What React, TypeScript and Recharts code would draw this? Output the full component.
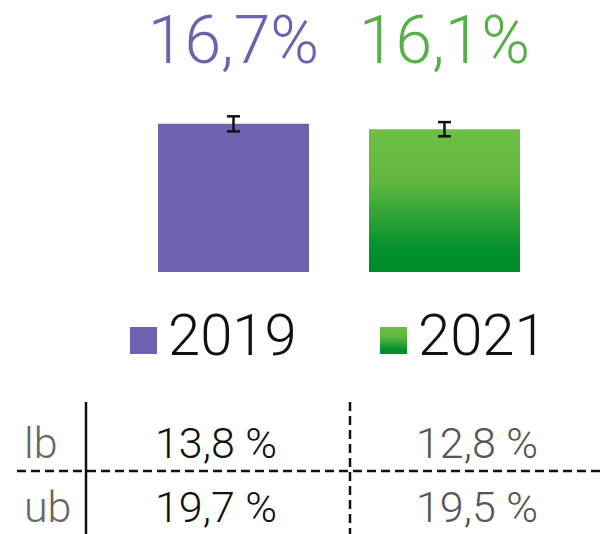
import React from 'react';
import { BarChart, Bar, XAxis, YAxis, ErrorBar, LabelList, Legend } from 'recharts';

const years = ['2019', '2021'];
const shares = [16.7, 16.1];
const errors = [0.85, 0.8];
const lowerBounds = [13.8, 12.8];
const upperBounds = [19.7, 19.5];
const rowLabels = ['lb', 'ub'];

const COLORS = ['#6E62AE', 'url(#greenGrad)'];
const LABEL_COLORS = ['#6E62AE', '#57B047'];
const FONT = 'Roboto, "Liberation Sans", sans-serif';

const data = [
  {
    name: 'share',
    y2019: shares[0],
    e2019: errors[0],
    y2021: shares[1],
    e2021: errors[1],
  },
];

const fmt = (v: number) => v.toFixed(1).replace('.', ',');

const topLabel = (color: string) => (props: any) => {
  const { x, width, value } = props;
  return (
    <text
      x={Number(x) + Number(width) / 2}
      y={63}
      textAnchor="middle"
      fill={color}
      fontSize={66}
      fontWeight={300}
      fontFamily={FONT}
    >
      {fmt(Number(value))}%
    </text>
  );
};

const LegendContent = (props: any) => {
  const { payload } = props;
  return (
    <svg width={600} height={70} style={{ display: 'block' }}>
      {(payload || []).map((entry: any, i: number) => {
        const x = 130 + i * 250;
        return (
          <g key={entry.value}>
            <rect x={x} y={27} width={27} height={27} fill={COLORS[i]} />
            <text x={x + 38} y={55} fontSize={58} fontWeight={300} fontFamily={FONT} fill="#111">
              {entry.value}
            </text>
          </g>
        );
      })}
    </svg>
  );
};

function BoundsTable() {
  const colX = [216, 477];
  const colColor = ['#111', '#555'];
  const rows = [lowerBounds, upperBounds];
  const rowY = [458, 522];
  return (
    <svg width={600} height={534} style={{ position: 'absolute', left: 0, top: 0, pointerEvents: 'none' }}>
      <line x1={86} y1={402} x2={86} y2={534} stroke="#111" strokeWidth={2.5} />
      <line x1={350} y1={402} x2={350} y2={534} stroke="#111" strokeWidth={2.5} strokeDasharray="9 5" />
      <line x1={17} y1={471} x2={600} y2={471} stroke="#111" strokeWidth={2.5} strokeDasharray="9 5" />
      {rows.map((vals, r) => (
        <g key={rowLabels[r]}>
          <text x={24} y={rowY[r]} fontSize={43} fontWeight={300} fontFamily={FONT} fill="#666">
            {rowLabels[r]}
          </text>
          {vals.map((v, c) => (
            <text
              key={c}
              x={colX[c]}
              y={rowY[r]}
              textAnchor="middle"
              fontSize={43}
              fontWeight={300}
              fontFamily={FONT}
              fill={colColor[c]}
            >
              {fmt(v)} %
            </text>
          ))}
        </g>
      ))}
    </svg>
  );
}

export default function App() {
  return (
    <div style={{ position: 'absolute', left: 0, top: 0, width: 600, height: 534, background: '#fff' }}>
      <BarChart
        width={600}
        height={534}
        data={data}
        margin={{ top: 94.6, right: 52.5, bottom: 262, left: 130 }}
        barSize={151}
        barGap={60}
      >
        <defs>
          <linearGradient id="greenGrad" x1="0" y1="0" x2="0" y2="1">
            <stop offset="0%" stopColor="#6EBE44" />
            <stop offset="35%" stopColor="#62B840" />
            <stop offset="85%" stopColor="#00902C" />
            <stop offset="100%" stopColor="#008A2B" />
          </linearGradient>
        </defs>
        <XAxis dataKey="name" hide />
        <YAxis hide domain={[0, 20]} />
        <Legend
          layout="horizontal"
          align="center"
          verticalAlign="middle"
          content={<LegendContent />}
          wrapperStyle={{ top: 300, left: 0, width: 600 }}
        />
        <Bar dataKey="y2019" name={years[0]} fill={COLORS[0]} isAnimationActive={false}>
          <ErrorBar dataKey="e2019" width={6.5} strokeWidth={2.5} stroke="#111" direction="y" />
          <LabelList dataKey="y2019" content={topLabel(LABEL_COLORS[0])} />
        </Bar>
        <Bar dataKey="y2021" name={years[1]} fill={COLORS[1]} isAnimationActive={false}>
          <ErrorBar dataKey="e2021" width={6.5} strokeWidth={2.5} stroke="#111" direction="y" />
          <LabelList dataKey="y2021" content={topLabel(LABEL_COLORS[1])} />
        </Bar>
      </BarChart>
      <BoundsTable />
    </div>
  );
}
